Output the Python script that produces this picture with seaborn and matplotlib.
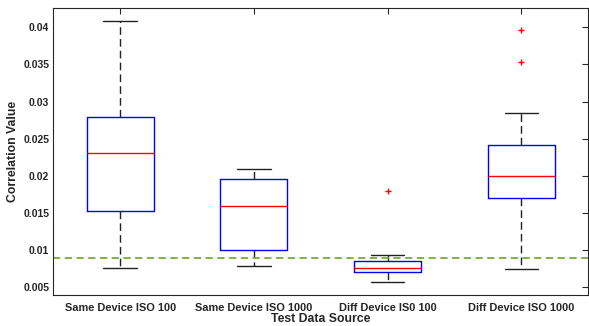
import numpy as np
import pandas as pd
import matplotlib
matplotlib.use("Agg")
import matplotlib.pyplot as plt
from matplotlib.ticker import FormatStrFormatter
import seaborn as sns

# summary values
sources = ["Same Device ISO 100", "Same Device ISO 1000", "Diff Device IS0 100", "Diff Device ISO 1000"]
lower_whisker = [0.00757, 0.00775, 0.00568, 0.00743]
q1 = [0.01530, 0.01000, 0.00703, 0.01703]
median = [0.02300, 0.01595, 0.00760, 0.02000]
q3 = [0.02790, 0.01955, 0.00845, 0.02410]
upper_whisker = [0.04085, 0.02090, 0.00925, 0.02840]
outliers = [[], [], [0.0179], [0.0354, 0.0396]]
threshold = 0.0089

# rebuild samples whose quartiles / whiskers / fliers give exactly these stats
rows = []
for i, src in enumerate(sources):
    above = [upper_whisker[i]] + outliers[i]
    below = [lower_whisker[i]]
    s = max(len(above), len(below))
    above += [upper_whisker[i]] * (s - len(above))
    below += [lower_whisker[i]] * (s - len(below))
    vals = below + [q1[i]] * s + [median[i]] + [q3[i]] * s + above
    rows += [(src, v) for v in vals]
df = pd.DataFrame(rows, columns=["source", "corr"])

sns.set_style("white")
plt.rcParams["font.family"] = ["Liberation Sans", "DejaVu Sans"]
plt.rcParams["font.weight"] = "bold"

fig = plt.figure(figsize=(5.89, 3.26), dpi=100)
ax = fig.add_axes([0.0905, 0.095, 0.908, 0.88])

sns.boxplot(data=df, x="source", y="corr", order=sources, ax=ax,
            width=0.5, fill=False, whis=1.5, linewidth=1.0,
            boxprops=dict(color="#0000ff"),
            medianprops=dict(color="#ff0000", linewidth=1.0),
            whiskerprops=dict(color="#222222", linestyle=(0, (5.5, 3)), linewidth=1.0),
            capprops=dict(color="#222222", linewidth=1.0),
            flierprops=dict(marker="+", markeredgecolor="#ff0000", markersize=5, markeredgewidth=1.0))

ax.axhline(threshold, color="#77ac30", linestyle=(0, (4, 2.5)), linewidth=1.3)

ax.set_xlim(-0.5, 3.5)
ax.set_ylim(0.0039, 0.0426)
ax.set_yticks([0.005, 0.01, 0.015, 0.02, 0.025, 0.03, 0.035, 0.04])
ax.yaxis.set_major_formatter(FormatStrFormatter("%g"))
ax.set_xlabel("Test Data Source", fontsize=8.8, fontweight="bold", color="#262626", labelpad=0.5)
ax.set_ylabel("Correlation Value", fontsize=8.8, fontweight="bold", color="#262626", labelpad=3)
ax.tick_params(direction="in", length=4, width=0.8, top=True, right=True,
               colors="#262626", pad=3)
ax.tick_params(axis="x", labelsize=7.9, pad=5.5)
ax.tick_params(axis="y", labelsize=7.5)
for lab in ax.get_xticklabels() + ax.get_yticklabels():
    lab.set_fontweight("bold")
for sp in ax.spines.values():
    sp.set_visible(True)
    sp.set_color("#262626")
    sp.set_linewidth(0.8)

fig.savefig("out.png", dpi=100)
